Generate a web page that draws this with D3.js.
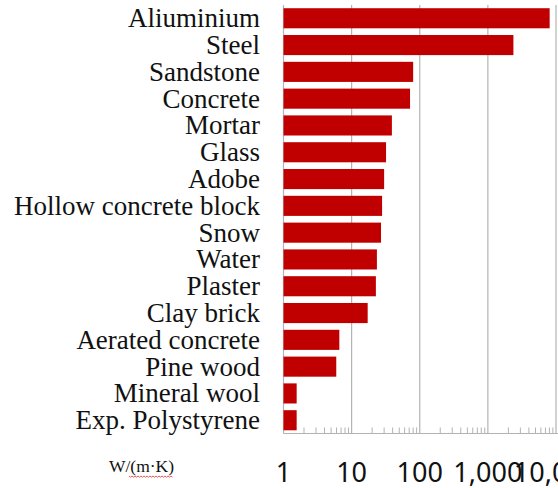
<!DOCTYPE html>
<html>
<head>
<meta charset="utf-8">
<script src="https://cdn.jsdelivr.net/npm/d3@7"></script>
<style>
  body { margin: 0; background: #fff; }
  svg { display: block; }
</style>
</head>
<body>
<svg id="chart"></svg>
<script>
// materials, top to bottom
const materials = ['Aliuminium', 'Steel', 'Sandstone', 'Concrete', 'Mortar', 'Glass', 'Adobe',
    'Hollow concrete block', 'Snow', 'Water', 'Plaster', 'Clay brick', 'Aerated concrete',
    'Pine wood', 'Mineral wool', 'Exp. Polystyrene'];
const conductivity = [8070, 2370, 80, 72, 39, 32, 30, 28, 27, 23.5, 22.7, 17.2, 6.6, 5.95, 1.56, 1.56];
const tickValues = [1, 10, 100, 1000, 10000];
const unitLabel = 'W/(m·K)';

const width = 558, height = 488;
const margin = {top: 5, right: 2, bottom: 55, left: 283.5};

const svg = d3.select('#chart')
    .attr('width', width)
    .attr('height', height);

const x = d3.scaleLog()
    .domain([1, 10000])
    .range([margin.left, 556]);

const y = d3.scaleBand()
    .domain(materials)
    .range([margin.top, height - margin.bottom + 0.5])
    .paddingInner(0.25)
    .paddingOuter(0.12);

const plotBottom = height - margin.bottom + 0.5;

// vertical gridlines at each decade
svg.append('g')
    .selectAll('line')
    .data(tickValues)
    .join('line')
    .attr('x1', d => x(d))
    .attr('x2', d => x(d))
    .attr('y1', margin.top)
    .attr('y2', plotBottom)
    .attr('stroke', '#b3b3b3')
    .attr('stroke-width', 1.2);

// minor ticks (2..9 in each decade)
const minor = [];
for (let i = 0; i < 4; i++) {
    for (let k = 2; k <= 9; k++) minor.push(k * Math.pow(10, i));
}
svg.append('g')
    .selectAll('line')
    .data(minor)
    .join('line')
    .attr('x1', d => x(d))
    .attr('x2', d => x(d))
    .attr('y1', plotBottom - 6)
    .attr('y2', plotBottom)
    .attr('stroke', '#b3b3b3')
    .attr('stroke-width', 1);

// baseline
svg.append('line')
    .attr('x1', margin.left)
    .attr('x2', width)
    .attr('y1', plotBottom)
    .attr('y2', plotBottom)
    .attr('stroke', '#b3b3b3')
    .attr('stroke-width', 1.2);

// bars
svg.append('g')
    .selectAll('rect')
    .data(materials)
    .join('rect')
    .attr('x', x(1))
    .attr('y', d => y(d))
    .attr('width', (d, i) => x(conductivity[i]) - x(1))
    .attr('height', y.bandwidth())
    .attr('fill', '#c00000');

// category labels
svg.append('g')
    .selectAll('text')
    .data(materials)
    .join('text')
    .attr('x', 260)
    .attr('y', d => y(d) + y.bandwidth() / 2)
    .attr('dy', '0.33em')
    .attr('text-anchor', 'end')
    .style('font-family', '"Liberation Serif", "Times New Roman", serif')
    .style('font-size', '27px')
    .attr('fill', '#111')
    .text(d => d);

// x tick labels
svg.append('g')
    .selectAll('text')
    .data(tickValues)
    .join('text')
    .attr('x', d => x(d))
    .attr('y', 482)
    .attr('text-anchor', 'middle')
    .style('font-family', '"Noto Sans", "Open Sans", sans-serif')
    .style('font-size', '27px')
    .attr('fill', '#111')
    .text(d => d3.format(',')(d));

// unit label
svg.append('text')
    .attr('x', 141.5)
    .attr('y', 472)
    .attr('text-anchor', 'middle')
    .style('font-family', '"Liberation Serif", "Times New Roman", serif')
    .style('font-size', '17.5px')
    .attr('fill', '#111')
    .text(unitLabel);

// red spell-check squiggle under "(m·K)"
const squiggle = d3.range(0, 44, 1.5).map((d, i) => [129 + d, 476 + (i % 2 ? 1.2 : 0)]);
svg.append('path')
    .attr('d', d3.line()(squiggle))
    .attr('fill', 'none')
    .attr('stroke', '#e03030')
    .attr('stroke-width', 0.8);
</script>
</body>
</html>
